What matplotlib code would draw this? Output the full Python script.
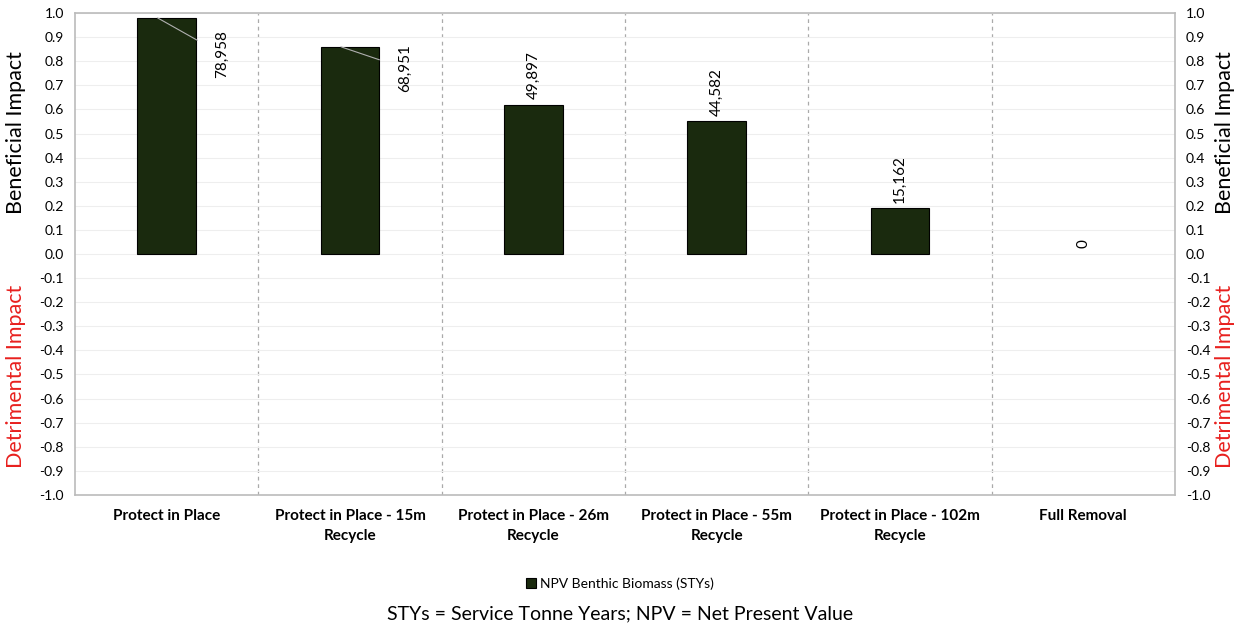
import matplotlib.pyplot as plt
import numpy as np

plt.rcParams["font.family"] = ["Lato", "DejaVu Sans"]

categories = [
    "Protect in Place",
    "Protect in Place - 15m\nRecycle",
    "Protect in Place - 26m\nRecycle",
    "Protect in Place - 55m\nRecycle",
    "Protect in Place - 102m\nRecycle",
    "Full Removal",
]
sty_values = [78958, 68951, 49897, 44582, 15162, 0]
impact = [0.98, 0.86, 0.62, 0.55, 0.19, 0.0]
bar_color = "#1a2a0e"

fig = plt.figure(figsize=(12.4, 6.32), dpi=100)
ax = fig.add_axes([0.0605, 0.2168, 0.887, 0.7626])

x = np.arange(len(categories))
edge = ["black" if h > 0 else "none" for h in impact]
ax.bar(x, impact, width=0.32, color=bar_color, edgecolor=edge, linewidth=0.8,
       label="NPV Benthic Biomass (STYs)", zorder=3)

ax.set_xlim(-0.5, len(categories) - 0.5)
ax.set_ylim(-1.0, 1.0)
yt = np.arange(-10, 11) / 10
ylabels = [f"{v:.1f}" if v != 0 else "0.0" for v in yt]
ax.set_yticks(yt)
ax.set_yticklabels(ylabels, fontsize=10)
ax.tick_params(axis="y", length=0, pad=8)
ax.grid(axis="y", color="#eeeeee", linewidth=0.8, zorder=0)
for d in np.arange(0.5, len(categories) - 0.5, 1):
    ax.axvline(d, color="#aaaaaa", linestyle=(0, (3, 3)), linewidth=0.9, zorder=1)

ax.set_xticks(x)
ax.set_xticklabels(categories, fontsize=11, fontweight="bold", linespacing=1.6)
ax.tick_params(axis="x", length=0, pad=10)
for s in ax.spines.values():
    s.set_color("#bbbbbb")
    s.set_linewidth(1.2)

ax2 = ax.twinx()
ax2.set_ylim(-1.0, 1.0)
ax2.set_yticks(yt)
ax2.set_yticklabels(ylabels, fontsize=10)
ax2.tick_params(axis="y", length=0, pad=8)
for s in ax2.spines.values():
    s.set_visible(False)

# data labels (first two are pulled out beside the bar with a leader line)
leader_drop = [0.15, 0.09]
for i, (v, h) in enumerate(zip(sty_values, impact)):
    txt = f"{v:,}"
    if i < 2:
        ax.annotate(txt, xy=(i - 0.05, h), xytext=(i + 0.3, h - leader_drop[i]),
                    rotation=90, ha="center", va="center", fontsize=11,
                    arrowprops=dict(arrowstyle="-", color="#b0b0b0", lw=0.8,
                                    shrinkA=12, shrinkB=0),
                    zorder=4)
    else:
        ax.annotate(txt, xy=(i, h), xytext=(0, 4), textcoords="offset points",
                    rotation=90, ha="center", va="bottom", fontsize=11, zorder=4)

fig.text(0.013, 0.79, "Beneficial Impact", rotation=90, ha="center", va="center", fontsize=15.5)
fig.text(0.013, 0.405, "Detrimental Impact", rotation=90, ha="center", va="center",
         fontsize=15.5, color="#e8201e")
fig.text(0.988, 0.79, "Beneficial Impact", rotation=90, ha="center", va="center", fontsize=15.5)
fig.text(0.988, 0.405, "Detrimental Impact", rotation=90, ha="center", va="center",
         fontsize=15.5, color="#e8201e")

fig.legend(loc="center", bbox_to_anchor=(0.5, 0.077), frameon=False, fontsize=10,
           handlelength=0.7, handleheight=0.7, handletextpad=0.3)
fig.text(0.5, 0.028, "STYs = Service Tonne Years; NPV = Net Present Value",
         ha="center", va="center", fontsize=14)

fig.savefig("out.png", dpi=100)
